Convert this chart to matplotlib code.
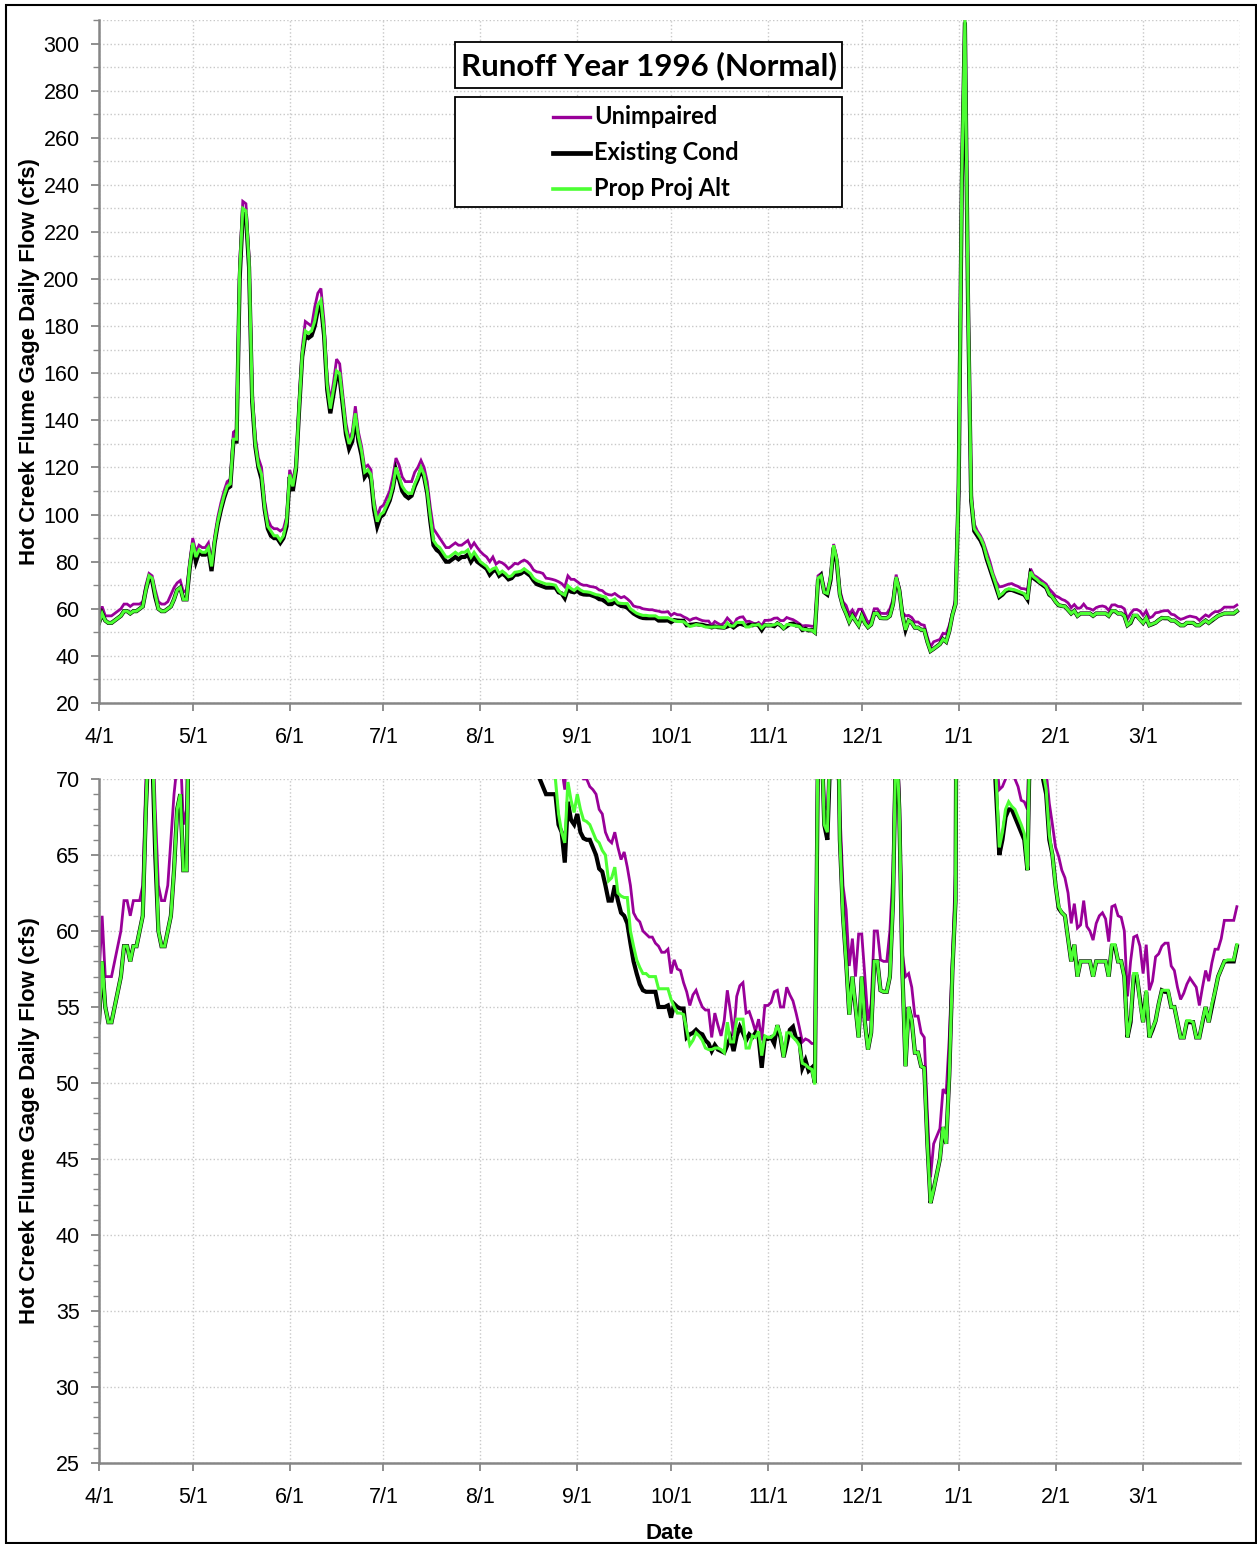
import numpy as np
import pandas as pd
import matplotlib
matplotlib.use('Agg')
import matplotlib.pyplot as plt
from matplotlib.ticker import MultipleLocator
from matplotlib.patches import Rectangle
from matplotlib.lines import Line2D

# daily flows (cfs), 4/1/1996 - 3/31/1997
existing = [
    54, 58, 55, 54, 54, 55, 56, 57, 59, 59, 58, 59, 59, 60, 61, 68, 73, 72, 65, 60, 59, 59, 60, 61, 64, 68, 69, 64, 64, 77,
    87, 80, 84, 83, 83, 85, 76, 88, 96, 102, 107, 111, 112, 131, 131, 200, 228, 227, 205, 148, 129, 120, 115, 102, 94, 91, 90, 90, 88, 90, 95,
    116, 110, 119, 144, 167, 176, 175, 176, 180, 187, 189, 176, 153, 143, 151, 159, 158, 146, 134, 128, 131, 141, 131, 125, 116, 118, 115, 102, 95, 99,
    100, 103, 106, 111, 119, 115, 110, 108, 107, 108, 112, 115, 119, 116, 109, 97, 87, 85, 84, 82, 80, 80, 81, 82, 81, 82, 82, 83, 80, 82, 80,
    79, 78, 77, 74.5, 76, 76.5, 74, 75, 74, 72.5, 73, 74.5, 74.5, 75, 76, 75, 74, 72, 70.5, 70, 69.5, 69, 69, 69, 69, 67, 66.5, 64.5, 68.5, 67.3, 67,
    67.7, 66.5, 66.1, 66, 66, 65.5, 65, 64.1, 63.9, 63, 62, 62, 63, 62, 61.2, 61, 60.5, 59.2, 58, 57.2, 56.5, 56.1, 56, 56, 56, 56, 55, 55, 55, 55.1,
    54.3, 55.2, 55, 54.9, 54.9, 53, 53.2, 53.3, 53.5, 53.3, 53.2, 52.8, 52.6, 52.1, 52.5, 52.2, 52.1, 52, 52.5, 53, 52.1, 53.1, 53.7, 53.3, 52.8, 53.2, 53, 53.3, 53, 51, 53,
    52.9, 53, 52.6, 53.8, 53, 51.7, 52.6, 53.5, 53.7, 52.9, 52.9, 51, 51.5, 50.8, 51, 50, 72, 74, 67, 66, 72, 86, 80, 66, 61, 58, 54.5, 57, 55, 53,
    57, 54, 52.2, 53.3, 58, 58, 56.1, 56, 56, 57, 62, 73, 68, 57.4, 51.1, 55, 54.1, 52, 52, 51.1, 51, 46, 42.1, 43, 44, 45, 47.1, 46, 50.5, 57.4, 62,
    110, 240, 309, 190, 106, 93, 91, 89, 86, 81, 77, 73, 69, 65, 66, 67.5, 68, 68, 67.5, 67, 66.5, 66, 64, 75, 73, 72, 71, 70, 69, 66, 65,
    63, 61.5, 61.2, 61, 59.5, 58, 59.1, 57, 58, 58, 58, 58, 57, 58, 58, 58, 58, 57, 59, 59, 58, 58, 57, 53, 54, 57, 57, 55.5,
    54, 56, 53, 53.5, 54.1, 55.2, 56.1, 56, 56, 55, 55, 54, 53, 53, 54, 54, 54, 53, 53, 54, 55, 54, 55, 56, 57, 57.5, 58, 58, 58, 58, 59,
]
prop_alt = [
    54, 58, 55, 54, 54, 55, 56, 57, 59, 59, 58, 59, 59, 60, 61, 68, 74, 73, 66, 60, 59, 59, 60, 61, 64, 68, 69, 64, 64, 78,
    88, 82, 85, 84, 84, 86, 78, 89, 97, 103, 108, 112, 113, 132, 132, 203, 230, 229, 207, 150, 130, 121, 117, 103, 95, 93, 91, 91, 89, 91, 97,
    117, 112, 120, 145, 168, 178, 177, 178, 182, 189, 191, 178, 155, 145, 153, 161, 160, 148, 136, 130, 133, 143, 133, 127, 118, 119, 117, 104, 97, 100,
    101, 104, 107, 112, 120, 116, 112, 110, 109, 109, 113, 116, 120, 117, 110, 99, 89, 87, 86, 84, 82, 82, 83, 84, 83, 84, 84, 85, 82, 84, 82,
    80, 79, 78, 76, 77, 77.5, 75, 76, 75, 73.6, 74, 75.5, 75.7, 76, 77, 76, 75, 73, 72, 71.5, 71, 70.5, 70.5, 70.3, 70, 67.7, 66.5, 65.8, 69.8, 68.6, 67.8,
    69, 68, 67.3, 67.2, 67, 66.5, 66, 65.8, 65.3, 65, 63.3, 63.5, 64.2, 62.5, 62.3, 62.2, 62.2, 60, 59, 58.1, 57.6, 57.2, 57.2, 57, 57, 57, 56.2, 56.2, 56.2, 56.2,
    55.5, 55, 54.6, 54.6, 54.5, 53.5, 52.5, 52.8, 53.3, 53.1, 52.8, 52.3, 52.2, 52.2, 52.3, 52.3, 52.2, 52, 54, 52.7, 52.7, 54.2, 54.2, 54.2, 52.3, 52.3, 53.1, 53, 53.4, 51.8, 53.1,
    53, 53, 53.2, 53.8, 53.2, 51.7, 53.3, 53.3, 53, 52.8, 52.5, 51.3, 51.2, 51, 50.9, 49.9, 73, 74, 67, 66.5, 73, 87, 81, 66, 61, 58, 54.5, 57, 55, 53,
    57, 54, 52.2, 53.3, 58, 58, 56.1, 56, 56, 57, 62, 73.5, 68, 57.4, 51.1, 55, 54.1, 52, 52, 51.1, 51, 46, 42.1, 43, 44, 45, 47.1, 46, 50.5, 57.4, 62,
    112, 242, 310, 192, 107, 94, 92, 90, 87, 82, 78, 74, 70, 65.5, 66.5, 68, 68.5, 68.2, 68, 67.5, 67, 66.4, 64, 75.7, 73.5, 72.5, 71.2, 70.5, 69.3, 66.3, 65,
    63, 61.6, 61.2, 61, 59.5, 58, 59.1, 57, 58, 58, 58, 58, 57, 58, 58, 58, 58, 57, 59.1, 59.1, 58, 58, 57, 53, 54.2, 57.2, 57.2, 55.3,
    54, 56.1, 53, 53.6, 54.1, 55.2, 56.1, 56.1, 56.1, 55, 55, 54, 53, 53, 54.1, 54.1, 54, 53, 53, 54.1, 55, 54, 55.2, 56, 57, 57.5, 58, 58.1, 58.1, 58.1, 59.1,
]
unimpaired = [
    57, 61, 57, 57, 57, 58, 59, 60, 62, 62, 61, 62, 62, 62, 63, 70, 75, 74, 68, 63, 62, 62, 63, 66, 69, 71, 72, 67, 68, 80,
    90, 84, 87, 86, 86, 88, 80, 91, 99, 105, 110, 114, 115, 135, 136, 207, 233, 232, 210, 153, 133, 124, 120, 106, 98, 95, 94, 94, 93, 94, 99,
    119, 114, 122, 148, 171, 182, 181, 180, 188, 194, 196, 182, 158, 148, 156, 166, 164, 151, 139, 132, 135, 146, 135, 129, 120, 121, 119, 106, 99, 103,
    104, 107, 110, 116, 124, 121, 116, 114, 114, 114, 118, 120, 123, 120, 114, 103, 94, 92, 90, 88, 86, 86, 87, 88, 87, 87, 88, 89, 86, 88, 86,
    84.3, 83, 82, 80, 82, 79, 80, 79.5, 78.5, 77, 78, 79.3, 79, 80, 80.7, 80, 78.6, 76.5, 75.7, 75.5, 75, 73, 72.8, 72.5, 72.1, 71.5, 70.7, 69.3, 74, 72.5, 72.5,
    71.5, 70.5, 70, 70, 69.5, 69.3, 69, 68, 67.7, 66.5, 66, 65.8, 66.5, 65.5, 64.7, 65.2, 64.2, 63, 61.2, 60.8, 60.6, 60, 59.8, 59.6, 59.6, 59.2, 59, 58.6, 58.6, 58.8,
    57.2, 58.1, 57.5, 57.4, 56.6, 56, 55.1, 55.8, 56.1, 55.5, 55, 54.8, 54.8, 53, 54.6, 53.8, 53.1, 54.1, 56.1, 54.7, 53.1, 55.7, 56.4, 56.6, 54.6, 54.7, 54.1, 53.4, 54.2, 52.8, 55.1,
    55.1, 55.3, 56, 56.1, 55, 55, 56.3, 55.8, 55.4, 54.6, 53.7, 52.7, 52.9, 52.8, 52.6, 52.6, 74, 75, 68.2, 68, 74, 87.5, 82, 68, 63, 61.4, 57.7, 59.5, 57, 59.8,
    59.8, 57, 54.1, 55.2, 60, 60, 58.1, 58, 58, 60, 64, 74.5, 69, 58.5, 57, 57.2, 56.3, 54.4, 54.4, 53.3, 53, 48, 43.8, 46, 46.5, 47, 49.6, 49.3, 53, 58.3, 64,
    118, 246, 312, 196, 110, 96, 93, 91, 88, 84, 80, 75, 71.5, 69.3, 69.5, 70, 70.5, 70.7, 70, 69.5, 68.6, 68.5, 68, 77, 74.3, 73.5, 72.5, 71.5, 70.5, 68.4, 67,
    65.5, 64.9, 64, 63.5, 62.5, 60.5, 61.8, 60.2, 60.4, 62, 60.3, 60, 59.4, 60.5, 61, 61.2, 60.8, 59.3, 61.6, 61.7, 61, 60.9, 60, 55.7, 58, 59.6, 59.7, 59,
    57.2, 59.1, 56.1, 56.7, 58.3, 58.5, 59, 59.2, 59.2, 57.7, 57.4, 56.3, 55.5, 55.9, 56.5, 56.9, 56.6, 56.3, 55.1, 56.3, 57.4, 56.7, 57.9, 58.8, 58.8, 59.5, 60.7, 60.7, 60.7, 60.7, 61.6,
]
series_names = ['Unimpaired', 'Existing Cond', 'Prop Proj Alt']
series_colors = ['#990099', '#000000', '#4cff33']
series_widths = [2.0, 3.0, 2.2]
title = 'Runoff Year 1996 (Normal)'
ylabel = 'Hot Creek Flume Gage Daily Flow (cfs)'

dates = pd.date_range('1996-04-01', periods=len(existing), freq='D')
month_starts = pd.date_range('1996-04-01', '1997-03-01', freq='MS')
month_labels = [f'{d.month}/{d.day}' for d in month_starts]

W, H = 1257, 1544
fig = plt.figure(figsize=(W / 100, H / 100), dpi=100)
plt.rcParams['font.family'] = ['Liberation Sans', 'DejaVu Sans']

ax1 = fig.add_axes([99 / W, 1 - 703 / H, 1141 / W, 683 / H])
ax2 = fig.add_axes([99 / W, 1 - 1463 / H, 1141 / W, 684 / H])

spine_col = '#868686'
grid_col = '#c8c8c8'


def style(ax, ylo, yhi, major, minor, minor_grid):
    for vals, c, lw in zip([unimpaired, existing, prop_alt], series_colors, series_widths):
        ax.plot(dates, vals, color=c, lw=lw, solid_joinstyle='miter')
    ax.set_xlim(pd.Timestamp('1996-04-01'), pd.Timestamp('1997-04-01'))
    ax.set_ylim(ylo, yhi)
    ax.set_yticks(np.arange(ylo, yhi + 0.1, major))
    ax.yaxis.set_minor_locator(MultipleLocator(minor))
    ax.set_xticks(month_starts)
    ax.set_xticklabels(month_labels)
    ax.tick_params(axis='both', which='major', labelsize=15.5, color=spine_col, length=6, width=1.3)
    ax.tick_params(axis='y', which='minor', color=spine_col, length=4, width=1.0)
    ax.tick_params(axis='x', pad=11)
    ax.tick_params(axis='y', pad=8)
    ax.grid(axis='x', which='major', ls=':', color=grid_col, lw=1.0)
    ax.grid(axis='y', which='major', ls=':', color=grid_col, lw=1.0)
    if minor_grid:
        ax.grid(axis='y', which='minor', ls=':', color=grid_col, lw=1.0)
    ax.axvline(pd.Timestamp('1997-04-01'), ls=':', color=grid_col, lw=1.0)
    for s in ['top', 'right']:
        ax.spines[s].set_visible(False)
    for s in ['left', 'bottom']:
        ax.spines[s].set_color(spine_col)
        ax.spines[s].set_linewidth(1.8)
    ax.set_axisbelow(True)
    ax.set_ylabel(ylabel, fontsize=16, fontweight='bold')
    ax.yaxis.set_label_coords(-0.052, 0.5)


style(ax1, 20, 310, 20, 10, True)
style(ax2, 25, 70, 5, 1, False)
ax2.set_xlabel('Date', fontsize=16, fontweight='bold', labelpad=11)

# title box
fig.add_artist(Rectangle((455 / W, 1 - 88 / H), 387 / W, 46 / H, transform=fig.transFigure,
                         fill=True, facecolor='white', edgecolor='black', lw=1.3, zorder=5))
fig.text(649 / W, 1 - 66 / H, title, ha='center', va='center', fontsize=22.5,
         fontweight='bold', family=['Lato', 'DejaVu Sans'], zorder=6)

# legend box
fig.add_artist(Rectangle((455 / W, 1 - 207 / H), 387 / W, 110 / H, transform=fig.transFigure,
                         fill=True, facecolor='white', edgecolor='black', lw=1.3, zorder=5))
for i, (name, c, lw) in enumerate(zip(series_names, series_colors, series_widths)):
    yy = 1 - (117 + 36 * i) / H
    fig.add_artist(Line2D([553 / W, 590 / W], [yy, yy], transform=fig.transFigure,
                          color=c, lw=lw + 0.4, zorder=6))
    fig.text(594 / W, yy, name, ha='left', va='center', fontsize=17, fontweight='bold',
             family=['Lato', 'DejaVu Sans'], zorder=6)

# outer border
fig.add_artist(Rectangle((6 / W, 1 - 1543 / H), 1250 / W, 1538 / H, transform=fig.transFigure,
                         fill=False, edgecolor='black', lw=1.5))

fig.savefig('out.png', dpi=100)
